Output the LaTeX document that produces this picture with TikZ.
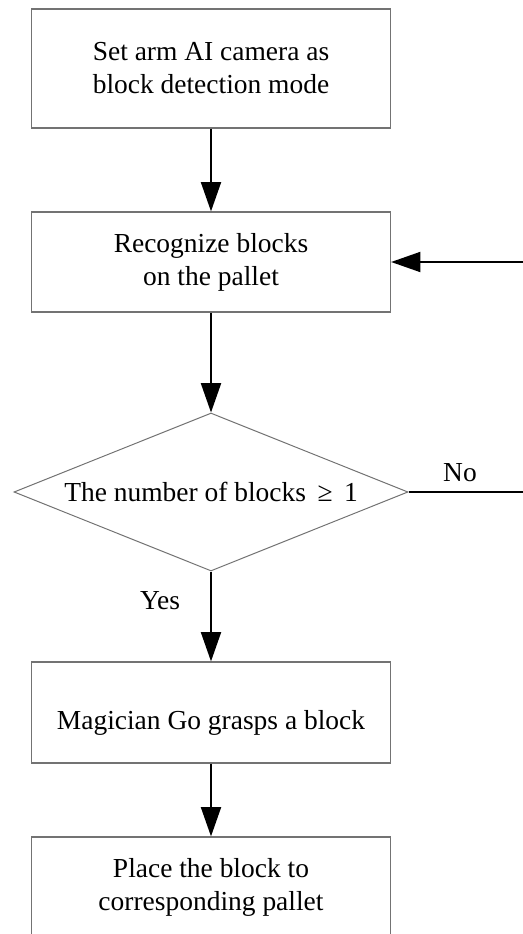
\documentclass[tikz,border=0pt]{standalone}
\usepackage{fontspec}
\setmainfont{Liberation Serif}
\usetikzlibrary{shapes.geometric,arrows.meta}
\begin{document}
\begin{tikzpicture}[
  x=0.75pt, y=-0.75pt,
  font=\fontsize{20.6}{24.75}\selectfont,
  every node/.style={align=center},
  box/.style={draw=black!55, line width=0.9pt, minimum width=269.25pt, minimum height=75pt, inner sep=0pt},
  decbox/.style={diamond, draw=black!55, line width=0.75pt, minimum width=295.5pt, minimum height=118.5pt, inner sep=0pt},
  flow/.style={line width=1.5pt, -{Triangle[length=22pt,width=15pt]}},
]
\useasboundingbox (0,0) rectangle (523,934);
\def\cx{211}
\node[box, minimum height=89.25pt] (setcam) at (\cx,68.5) {Set arm AI camera as\\block detection mode};
\node[box] (recog) at (\cx,262) {Recognize blocks\\on the pallet};
\node[decbox] (count) at (\cx,492) {\makebox[0pt]{The number of blocks \,≥\, 1}};
\node[box, minimum height=75.75pt] (grasp) at (\cx,712.5) {\raisebox{-12.4pt}[0pt][0pt]{Magician Go grasps a block}};
\node[box] (place) at (\cx,887) {Place the block to\\corresponding pallet};
\node (yes) at (160,601) {Yes};
\node (no) at (460,473) {No};
\coordinate (back) at (540,492);
\draw[flow] (setcam) -- (recog);
\draw[flow] (recog) -- (count);
\draw[flow] (count) -- (grasp);
\draw[flow] (grasp) -- (place);
\draw[flow] (count.east) -- (back) |- (recog.east);
\end{tikzpicture}
\end{document}
